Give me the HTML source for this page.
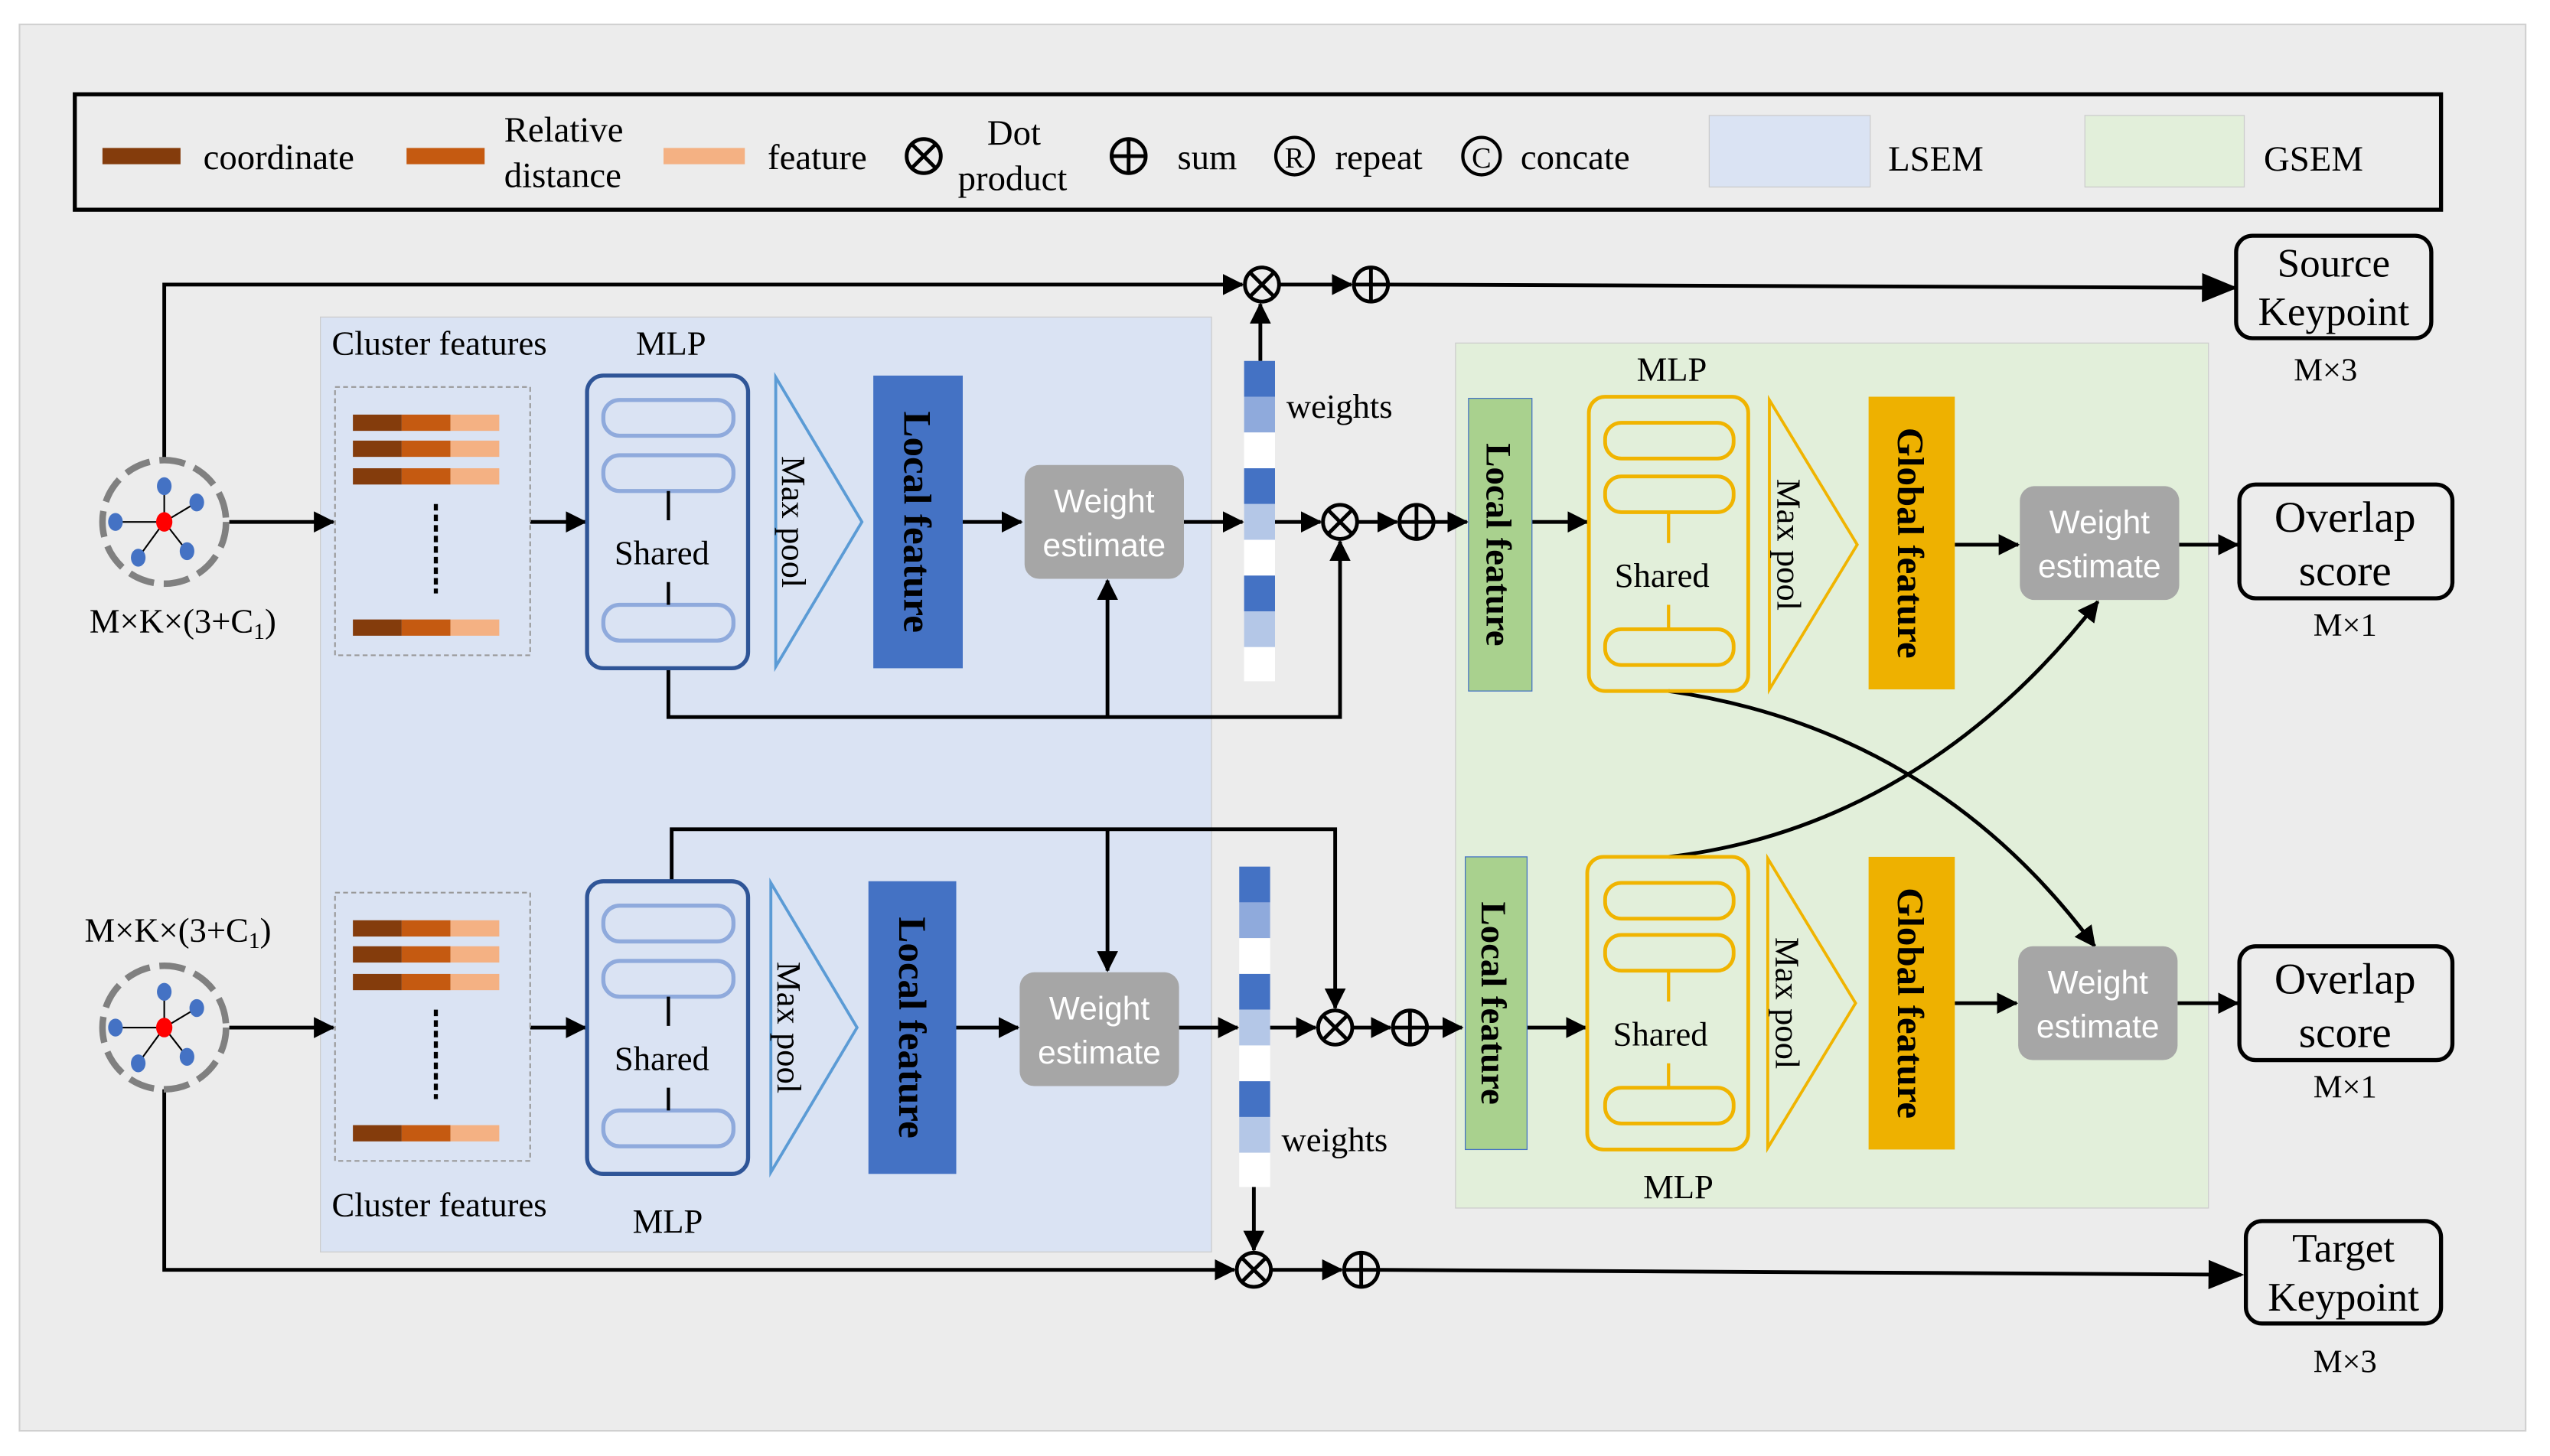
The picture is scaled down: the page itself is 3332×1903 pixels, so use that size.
<!DOCTYPE html>
<html><head><meta charset="utf-8"><style>
html,body{margin:0;padding:0;background:#fff;}
svg{display:block;}
text{font-family:"Liberation Serif",serif;fill:#000;}
.s{font-family:"Liberation Sans",sans-serif;fill:#fff;}
</style></head><body>
<svg width="3332" height="1903" viewBox="0 0 1568 895.5" preserveAspectRatio="none" xmlns="http://www.w3.org/2000/svg">
<defs>
<marker id="a" markerWidth="13" markerHeight="13" refX="12" refY="6.5" orient="auto" markerUnits="userSpaceOnUse" viewBox="0 0 13 13"><path d="M0,0 L13,6.5 L0,13 z" fill="#000"/></marker>
<marker id="b" markerWidth="22" markerHeight="22" refX="20" refY="11" orient="auto" markerUnits="userSpaceOnUse" viewBox="0 0 22 22"><path d="M0,2 L22,11 L0,20 z" fill="#000"/></marker>
<g id="node">
<circle r="38" fill="none" stroke="#808080" stroke-width="4" stroke-dasharray="16 6"/>
<g stroke="#000" stroke-width="1"><line x1="0" y1="0" x2="0" y2="-22"/><line x1="0" y1="0" x2="20" y2="-12"/><line x1="0" y1="0" x2="-30" y2="0"/><line x1="0" y1="0" x2="-16" y2="22"/><line x1="0" y1="0" x2="14" y2="18"/></g>
<g fill="#4472c4"><ellipse cx="0" cy="-22" rx="4.5" ry="5.5"/><ellipse cx="20" cy="-12" rx="4.5" ry="5.5"/><ellipse cx="-30" cy="0" rx="4.5" ry="5.5"/><ellipse cx="-16" cy="22" rx="4.5" ry="5.5"/><ellipse cx="14" cy="18" rx="4.5" ry="5.5"/></g>
<ellipse cx="0" cy="0" rx="5" ry="6" fill="#f00"/>
</g>
<g id="bar"><rect x="0" y="0" width="30" height="10" fill="#843c0c"/><rect x="30" y="0" width="30" height="10" fill="#c55a11"/><rect x="60" y="0" width="30" height="10" fill="#f4b183"/></g>
<g id="otimes"><circle r="10.5" fill="#ececec" stroke="#000" stroke-width="2.3"/><path d="M-7.4,-7.4 L7.4,7.4 M7.4,-7.4 L-7.4,7.4" stroke="#000" stroke-width="2.3"/></g>
<g id="oplus"><circle r="10.5" fill="#ececec" stroke="#000" stroke-width="2.3"/><path d="M-10.5,0 L10.5,0 M0,-10.5 L0,10.5" stroke="#000" stroke-width="2.3"/></g>
</defs>
<rect width="1568" height="895.5" fill="#fff"/>
<rect x="12" y="15" width="1541" height="865" fill="#ececec" stroke="#d0d0d0" stroke-width="1"/>

<rect x="46" y="58" width="1455" height="71" fill="none" stroke="#000" stroke-width="2.5"/>
<rect x="63" y="91" width="48" height="10" fill="#843c0c"/>
<text x="125" y="104" font-size="22">coordinate</text>
<rect x="250" y="91" width="48" height="10" fill="#c55a11"/>
<text x="310" y="87" font-size="22">Relative</text><text x="310" y="115" font-size="22">distance</text>
<rect x="408" y="91" width="50" height="10" fill="#f4b183"/>
<text x="472" y="104" font-size="22">feature</text>
<use href="#otimes" x="568" y="96"/>
<text x="607" y="89" font-size="22">Dot</text><text x="589" y="117" font-size="22">product</text>
<use href="#oplus" x="694" y="96"/>
<text x="724" y="104" font-size="22">sum</text>
<circle cx="796" cy="96" r="11.5" fill="none" stroke="#000" stroke-width="2"/><text x="796" y="103" font-size="18" text-anchor="middle">R</text>
<text x="821" y="104" font-size="22">repeat</text>
<circle cx="911" cy="96" r="11.5" fill="none" stroke="#000" stroke-width="2"/><text x="911" y="103" font-size="18" text-anchor="middle">C</text>
<text x="935" y="104" font-size="22">concate</text>
<rect x="1051" y="71" width="99" height="44" fill="#dae3f3" stroke="#ccc" stroke-width="0.6"/>
<text x="1161" y="105" font-size="22">LSEM</text>
<rect x="1282" y="71" width="98" height="44" fill="#e2efda" stroke="#ccc" stroke-width="0.6"/>
<text x="1392" y="105" font-size="22">GSEM</text>

<rect x="197" y="195" width="548" height="575" fill="#dae3f3" stroke="#ccc" stroke-width="0.6"/>
<rect x="895" y="211" width="463" height="532" fill="#e2efda" stroke="#ccc" stroke-width="0.6"/>

<g stroke="#000" stroke-width="2.3" fill="none">
<polyline points="101,283 101,175 764,175" marker-end="url(#a)"/>
<line x1="141" y1="321" x2="205" y2="321" marker-end="url(#a)"/>
<line x1="326" y1="321" x2="360" y2="321" marker-end="url(#a)"/>
<line x1="592" y1="321" x2="628" y2="321" marker-end="url(#a)"/>
<line x1="728" y1="321" x2="764" y2="321" marker-end="url(#a)"/>
<line x1="775" y1="222" x2="775" y2="187" marker-end="url(#a)"/>
<line x1="786" y1="175" x2="831" y2="175" marker-end="url(#a)"/>
<line x1="854" y1="175" x2="1374" y2="177" marker-end="url(#b)"/>
<line x1="784" y1="321" x2="812" y2="321" marker-end="url(#a)"/>
<line x1="835" y1="321" x2="859" y2="321" marker-end="url(#a)"/>
<line x1="882" y1="321" x2="902" y2="321" marker-end="url(#a)"/>
<polyline points="411,411 411,441 824,441 824,333" marker-end="url(#a)"/>
<line x1="681" y1="441" x2="681" y2="357" marker-end="url(#a)"/>
<line x1="942" y1="321" x2="976" y2="321" marker-end="url(#a)"/>
<line x1="1202" y1="335" x2="1241" y2="335" marker-end="url(#a)"/>
<line x1="1340" y1="335" x2="1376" y2="335" marker-end="url(#a)"/>
<polyline points="101,670 101,781 759,781" marker-end="url(#a)"/>
<line x1="141" y1="632" x2="205" y2="632" marker-end="url(#a)"/>
<line x1="326" y1="632" x2="360" y2="632" marker-end="url(#a)"/>
<line x1="588" y1="632" x2="626" y2="632" marker-end="url(#a)"/>
<line x1="725" y1="632" x2="761" y2="632" marker-end="url(#a)"/>
<line x1="771" y1="730" x2="771" y2="769" marker-end="url(#a)"/>
<line x1="782" y1="781" x2="825" y2="781" marker-end="url(#a)"/>
<line x1="848" y1="781" x2="1378" y2="784" marker-end="url(#b)"/>
<line x1="781" y1="632" x2="809" y2="632" marker-end="url(#a)"/>
<line x1="832" y1="632" x2="855" y2="632" marker-end="url(#a)"/>
<line x1="878" y1="632" x2="899" y2="632" marker-end="url(#a)"/>
<polyline points="413,542 413,510 821,510 821,620" marker-end="url(#a)"/>
<line x1="681" y1="510" x2="681" y2="597" marker-end="url(#a)"/>
<line x1="939" y1="632" x2="975" y2="632" marker-end="url(#a)"/>
<line x1="1202" y1="617" x2="1240" y2="617" marker-end="url(#a)"/>
<line x1="1339" y1="617" x2="1376" y2="617" marker-end="url(#a)"/>
<path d="M1026,425 C1130,440 1220,490 1288,582" marker-end="url(#a)"/>
<path d="M1026,527 C1130,515 1220,460 1290,370" marker-end="url(#a)"/>
</g>

<use href="#otimes" x="776" y="175"/><use href="#oplus" x="843" y="175"/>
<use href="#otimes" x="824" y="321"/><use href="#oplus" x="871" y="321"/>
<use href="#otimes" x="821" y="632"/><use href="#oplus" x="867" y="632"/>
<use href="#otimes" x="771" y="781"/><use href="#oplus" x="837" y="781"/>

<use href="#node" x="101" y="321"/>
<use href="#node" x="101" y="632"/>
<text x="55" y="389" font-size="21">M×K×(3+C<tspan font-size="14" dy="4">1</tspan><tspan dy="-4">)</tspan></text>
<text x="52" y="579" font-size="21">M×K×(3+C<tspan font-size="14" dy="4">1</tspan><tspan dy="-4">)</tspan></text>

<text x="204" y="218" font-size="21">Cluster features</text>
<text x="391" y="218" font-size="21">MLP</text>
<rect x="206" y="238" width="120" height="165" fill="none" stroke="#999" stroke-width="1" stroke-dasharray="3 2"/>
<use href="#bar" x="217" y="255"/><use href="#bar" x="217" y="271"/><use href="#bar" x="217" y="288"/><use href="#bar" x="217" y="381"/>
<line x1="268" y1="310" x2="268" y2="365" stroke="#000" stroke-width="2.5" stroke-dasharray="4 2.5"/>
<rect x="361" y="231" width="99" height="180" rx="10" fill="none" stroke="#2f5597" stroke-width="2.5"/>
<g fill="none" stroke="#8faadc" stroke-width="2.5"><rect x="371" y="246" width="80" height="22" rx="10"/><rect x="371" y="280" width="80" height="22" rx="10"/><rect x="371" y="372" width="80" height="22" rx="10"/></g>
<path d="M411,302 V320 M411,358 V372" stroke="#000" stroke-width="2"/>
<text x="407" y="347" font-size="21" text-anchor="middle">Shared</text>
<polygon points="477,232 530,321 477,410" fill="none" stroke="#5b9bd5" stroke-width="1.8"/>
<text transform="translate(481,321) rotate(90)" font-size="21" text-anchor="middle">Max pool</text>
<rect x="537" y="231" width="55" height="180" fill="#4472c4"/>
<text transform="translate(556,321) rotate(90)" font-size="24" font-weight="bold" text-anchor="middle">Local feature</text>
<rect x="630" y="286" width="98" height="70" rx="9" fill="#a6a6a6"/>
<text class="s" x="679" y="315" font-size="20" text-anchor="middle">Weight</text>
<text class="s" x="679" y="342" font-size="20" text-anchor="middle">estimate</text>
<g>
<rect x="765" y="222" width="19" height="22" fill="#4472c4"/><rect x="765" y="244" width="19" height="22" fill="#8faadc"/><rect x="765" y="266" width="19" height="22" fill="#fff"/>
<rect x="765" y="288" width="19" height="22" fill="#4472c4"/><rect x="765" y="310" width="19" height="22" fill="#b4c7e7"/><rect x="765" y="332" width="19" height="22" fill="#fff"/>
<rect x="765" y="354" width="19" height="22" fill="#4472c4"/><rect x="765" y="376" width="19" height="22" fill="#b4c7e7"/><rect x="765" y="398" width="19" height="21" fill="#fff"/>
</g>
<text x="791" y="257" font-size="21">weights</text>

<text x="204" y="748" font-size="21">Cluster features</text>
<text x="389" y="758" font-size="21">MLP</text>
<rect x="206" y="549" width="120" height="165" fill="none" stroke="#999" stroke-width="1" stroke-dasharray="3 2"/>
<use href="#bar" x="217" y="566"/><use href="#bar" x="217" y="582"/><use href="#bar" x="217" y="599"/><use href="#bar" x="217" y="692"/>
<line x1="268" y1="621" x2="268" y2="676" stroke="#000" stroke-width="2.5" stroke-dasharray="4 2.5"/>
<rect x="361" y="542" width="99" height="180" rx="10" fill="none" stroke="#2f5597" stroke-width="2.5"/>
<g fill="none" stroke="#8faadc" stroke-width="2.5"><rect x="371" y="557" width="80" height="22" rx="10"/><rect x="371" y="591" width="80" height="22" rx="10"/><rect x="371" y="683" width="80" height="22" rx="10"/></g>
<path d="M411,613 V631 M411,669 V683" stroke="#000" stroke-width="2"/>
<text x="407" y="658" font-size="21" text-anchor="middle">Shared</text>
<polygon points="474,543 527,632 474,721" fill="none" stroke="#5b9bd5" stroke-width="1.8"/>
<text transform="translate(478,632) rotate(90)" font-size="21" text-anchor="middle">Max pool</text>
<rect x="534" y="542" width="54" height="180" fill="#4472c4"/>
<text transform="translate(553,632) rotate(90)" font-size="24" font-weight="bold" text-anchor="middle">Local feature</text>
<rect x="627" y="598" width="98" height="70" rx="9" fill="#a6a6a6"/>
<text class="s" x="676" y="627" font-size="20" text-anchor="middle">Weight</text>
<text class="s" x="676" y="654" font-size="20" text-anchor="middle">estimate</text>
<g>
<rect x="762" y="533" width="19" height="22" fill="#4472c4"/><rect x="762" y="555" width="19" height="22" fill="#8faadc"/><rect x="762" y="577" width="19" height="22" fill="#fff"/>
<rect x="762" y="599" width="19" height="22" fill="#4472c4"/><rect x="762" y="621" width="19" height="22" fill="#b4c7e7"/><rect x="762" y="643" width="19" height="22" fill="#fff"/>
<rect x="762" y="665" width="19" height="22" fill="#4472c4"/><rect x="762" y="687" width="19" height="22" fill="#b4c7e7"/><rect x="762" y="709" width="19" height="21" fill="#fff"/>
</g>
<text x="788" y="708" font-size="21">weights</text>

<rect x="903" y="245" width="39" height="180" fill="#a9d18e" stroke="#4472c4" stroke-width="0.6"/>
<text transform="translate(914,335) rotate(90)" font-size="22" font-weight="bold" text-anchor="middle">Local feature</text>
<text x="1028" y="234" font-size="21" text-anchor="middle">MLP</text>
<rect x="977" y="244" width="98" height="181" rx="10" fill="none" stroke="#f0b400" stroke-width="2.3"/>
<g fill="none" stroke="#f0b400" stroke-width="2.3"><rect x="987" y="260" width="79" height="22" rx="10"/><rect x="987" y="293" width="79" height="22" rx="10"/><rect x="987" y="387" width="79" height="22" rx="10"/></g>
<path d="M1026,315 V334 M1026,372 V387" stroke="#f0b400" stroke-width="2"/>
<text x="1022" y="361" font-size="21" text-anchor="middle">Shared</text>
<polygon points="1088,246 1142,335 1088,424" fill="none" stroke="#f0b400" stroke-width="1.8"/>
<text transform="translate(1093,335) rotate(90)" font-size="21" text-anchor="middle">Max pool</text>
<rect x="1149" y="244" width="53" height="180" fill="#eeb100"/>
<text transform="translate(1167,334) rotate(90)" font-size="23" font-weight="bold" text-anchor="middle">Global feature</text>
<rect x="1242" y="299" width="98" height="70" rx="9" fill="#a6a6a6"/>
<text class="s" x="1291" y="328" font-size="20" text-anchor="middle">Weight</text>
<text class="s" x="1291" y="355" font-size="20" text-anchor="middle">estimate</text>

<rect x="901" y="527" width="38" height="180" fill="#a9d18e" stroke="#4472c4" stroke-width="0.6"/>
<text transform="translate(911,617) rotate(90)" font-size="22" font-weight="bold" text-anchor="middle">Local feature</text>
<text x="1032" y="737" font-size="21" text-anchor="middle">MLP</text>
<rect x="976" y="527" width="99" height="180" rx="10" fill="none" stroke="#f0b400" stroke-width="2.3"/>
<g fill="none" stroke="#f0b400" stroke-width="2.3"><rect x="987" y="543" width="79" height="22" rx="10"/><rect x="987" y="575" width="79" height="22" rx="10"/><rect x="987" y="669" width="79" height="22" rx="10"/></g>
<path d="M1026,597 V616 M1026,654 V669" stroke="#f0b400" stroke-width="2"/>
<text x="1021" y="643" font-size="21" text-anchor="middle">Shared</text>
<polygon points="1087,528 1141,617 1087,706" fill="none" stroke="#f0b400" stroke-width="1.8"/>
<text transform="translate(1092,617) rotate(90)" font-size="21" text-anchor="middle">Max pool</text>
<rect x="1149" y="527" width="53" height="180" fill="#eeb100"/>
<text transform="translate(1167,617) rotate(90)" font-size="23" font-weight="bold" text-anchor="middle">Global feature</text>
<rect x="1241" y="582" width="98" height="70" rx="9" fill="#a6a6a6"/>
<text class="s" x="1290" y="611" font-size="20" text-anchor="middle">Weight</text>
<text class="s" x="1290" y="638" font-size="20" text-anchor="middle">estimate</text>

<rect x="1375" y="145" width="120" height="63" rx="10" fill="none" stroke="#000" stroke-width="2.5"/>
<text x="1435" y="170" font-size="25" text-anchor="middle">Source</text>
<text x="1435" y="200" font-size="25" text-anchor="middle">Keypoint</text>
<text x="1430" y="234" font-size="20" text-anchor="middle">M×3</text>
<rect x="1377" y="298" width="131" height="70" rx="10" fill="none" stroke="#000" stroke-width="2.5"/>
<text x="1442" y="327" font-size="27" text-anchor="middle">Overlap</text>
<text x="1442" y="360" font-size="27" text-anchor="middle">score</text>
<text x="1442" y="391" font-size="20" text-anchor="middle">M×1</text>
<rect x="1377" y="582" width="131" height="70" rx="10" fill="none" stroke="#000" stroke-width="2.5"/>
<text x="1442" y="611" font-size="27" text-anchor="middle">Overlap</text>
<text x="1442" y="644" font-size="27" text-anchor="middle">score</text>
<text x="1442" y="675" font-size="20" text-anchor="middle">M×1</text>
<rect x="1381" y="751" width="120" height="63" rx="10" fill="none" stroke="#000" stroke-width="2.5"/>
<text x="1441" y="776" font-size="25" text-anchor="middle">Target</text>
<text x="1441" y="806" font-size="25" text-anchor="middle">Keypoint</text>
<text x="1442" y="844" font-size="20" text-anchor="middle">M×3</text>
</svg>
</body></html>
